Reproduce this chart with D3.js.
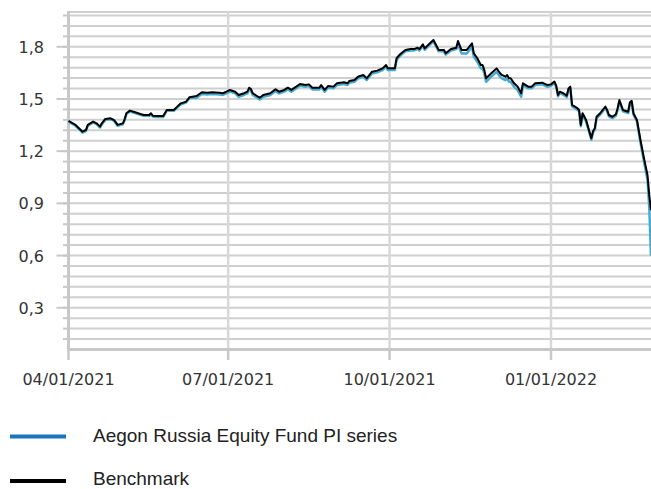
<html>
<head>
<script src="https://d3js.org/d3.v7.min.js"></script>
<style>
    body {
        margin: 0;
        background-color: #ffffff;
    }
    .tick-label {
        font-family: "DejaVu Sans", Verdana, sans-serif;
        font-size: 16px;
        fill: #333333;
    }
    .legend-label {
        font-family: "Liberation Sans", Arial, sans-serif;
        font-size: 19px;
        fill: #222222;
    }
</style>
</head>
<body>
<svg id="chart" width="651" height="489"></svg>

<script>
    // dates of the points (both series share them)
    let dates = [
        "2021-04-01","2021-04-05","2021-04-08","2021-04-09","2021-04-11","2021-04-12","2021-04-15","2021-04-17","2021-04-19","2021-04-20",
        "2021-04-22","2021-04-25","2021-04-27","2021-04-29","2021-05-02","2021-05-03","2021-05-04","2021-05-06","2021-05-09","2021-05-12",
        "2021-05-14","2021-05-17","2021-05-18","2021-05-19","2021-05-21","2021-05-25","2021-05-27","2021-05-31","2021-06-02","2021-06-04",
        "2021-06-07","2021-06-08","2021-06-09","2021-06-13","2021-06-16","2021-06-19","2021-06-22","2021-06-26","2021-06-28","2021-06-30",
        "2021-07-02","2021-07-05","2021-07-07","2021-07-10","2021-07-12","2021-07-13","2021-07-14","2021-07-15","2021-07-19","2021-07-21",
        "2021-07-25","2021-07-28","2021-07-30","2021-08-02","2021-08-04","2021-08-06","2021-08-11","2021-08-14","2021-08-16","2021-08-18",
        "2021-08-22","2021-08-23","2021-08-25","2021-08-27","2021-08-30","2021-09-01","2021-09-05","2021-09-07","2021-09-08","2021-09-11",
        "2021-09-13","2021-09-16","2021-09-18","2021-09-21","2021-09-24","2021-09-27","2021-09-29","2021-09-30","2021-10-04","2021-10-05",
        "2021-10-07","2021-10-10","2021-10-13","2021-10-15","2021-10-17","2021-10-18","2021-10-20","2021-10-21","2021-10-24","2021-10-26",
        "2021-10-29","2021-11-01","2021-11-02","2021-11-05","2021-11-08","2021-11-09","2021-11-11","2021-11-14","2021-11-17","2021-11-18",
        "2021-11-20","2021-11-22","2021-11-23","2021-11-24","2021-11-25","2021-11-28","2021-12-01","2021-12-03","2021-12-04","2021-12-06",
        "2021-12-07","2021-12-08","2021-12-09","2021-12-11","2021-12-13","2021-12-15","2021-12-16","2021-12-19","2021-12-21","2021-12-23",
        "2021-12-27","2021-12-30","2022-01-01","2022-01-03","2022-01-04","2022-01-05","2022-01-06","2022-01-08","2022-01-10","2022-01-11",
        "2022-01-12","2022-01-13","2022-01-16","2022-01-17","2022-01-18","2022-01-19","2022-01-21","2022-01-24","2022-01-25","2022-01-26",
        "2022-01-27","2022-01-29","2022-02-01","2022-02-02","2022-02-03","2022-02-05","2022-02-07","2022-02-08","2022-02-09","2022-02-11",
        "2022-02-14","2022-02-15","2022-02-16","2022-02-17","2022-02-19","2022-02-21","2022-02-23","2022-02-25","2022-02-26","2022-02-27"
    ]

    let fundValues = [
        1.369,1.346,1.317,1.307,1.317,1.346,1.365,1.355,1.336,1.355,
        1.380,1.384,1.374,1.346,1.355,1.378,1.413,1.428,1.419,1.409,
        1.403,1.403,1.413,1.399,1.397,1.397,1.432,1.432,1.451,1.470,
        1.479,1.493,1.505,1.507,1.529,1.526,1.529,1.526,1.523,1.532,
        1.542,1.532,1.513,1.523,1.532,1.555,1.547,1.523,1.497,1.513,
        1.523,1.546,1.532,1.542,1.555,1.542,1.576,1.570,1.574,1.555,
        1.555,1.570,1.542,1.565,1.561,1.580,1.586,1.580,1.593,1.599,
        1.618,1.628,1.609,1.647,1.653,1.666,1.685,1.666,1.666,1.724,
        1.749,1.774,1.779,1.779,1.787,1.779,1.806,1.783,1.812,1.831,
        1.774,1.774,1.755,1.779,1.787,1.813,1.762,1.762,1.800,1.743,
        1.714,1.675,1.675,1.647,1.599,1.628,1.656,1.628,1.618,1.608,
        1.618,1.599,1.599,1.570,1.551,1.513,1.580,1.561,1.561,1.580,
        1.584,1.570,1.576,1.592,1.567,1.515,1.534,1.525,1.511,1.553,
        1.563,1.458,1.439,1.429,1.343,1.410,1.371,1.266,1.308,1.324,
        1.390,1.410,1.448,1.429,1.400,1.390,1.404,1.439,1.486,1.429,
        1.419,1.473,1.481,1.410,1.371,1.250,1.140,1.035,0.880,0.600
    ]

    let benchmarkValues = [
        1.374,1.351,1.322,1.312,1.322,1.351,1.370,1.360,1.341,1.360,
        1.385,1.389,1.379,1.351,1.360,1.383,1.418,1.433,1.424,1.414,
        1.408,1.408,1.418,1.404,1.402,1.402,1.437,1.437,1.456,1.475,
        1.484,1.498,1.510,1.517,1.539,1.536,1.539,1.536,1.533,1.542,
        1.552,1.542,1.523,1.533,1.542,1.565,1.557,1.533,1.507,1.523,
        1.533,1.556,1.542,1.552,1.565,1.552,1.586,1.580,1.584,1.565,
        1.565,1.580,1.552,1.575,1.571,1.590,1.596,1.590,1.603,1.609,
        1.628,1.638,1.619,1.657,1.663,1.676,1.695,1.676,1.676,1.734,
        1.757,1.782,1.787,1.787,1.795,1.787,1.814,1.791,1.820,1.839,
        1.782,1.782,1.763,1.787,1.795,1.833,1.782,1.782,1.820,1.763,
        1.734,1.695,1.695,1.667,1.619,1.648,1.676,1.648,1.638,1.628,
        1.638,1.619,1.619,1.590,1.571,1.533,1.590,1.571,1.571,1.590,
        1.594,1.580,1.584,1.600,1.575,1.523,1.542,1.533,1.519,1.561,
        1.571,1.466,1.447,1.437,1.351,1.418,1.379,1.274,1.316,1.332,
        1.398,1.418,1.456,1.437,1.408,1.398,1.412,1.447,1.494,1.437,
        1.427,1.481,1.489,1.418,1.379,1.264,1.159,1.063,0.948,0.860
    ]

    let xTicks = ["2021-04-01", "2021-07-01", "2021-10-01", "2022-01-01"]
    let yTicks = [0.3, 0.6, 0.9, 1.2, 1.5, 1.8]
    let seriesNames = ["Aegon Russia Equity Fund PI series", "Benchmark"]

    let svg = d3.select("#chart")
    let margin = {left: 68.5, right: 654.5, top: 12, bottom: 349.5}

    let parse = d3.timeParse("%Y-%m-%d")
    let fmt = d3.timeFormat("%m/%d/%Y")

    let xScale = d3.scaleTime()
        .domain([parse("2021-04-01"), parse("2022-03-01")])
        .range([margin.left, margin.right])

    let yScale = d3.scaleLinear()
        .domain([0.06, 2.0])
        .range([margin.bottom, margin.top])

    // minor grid every 0.06
    let minor = d3.range(0.12, 2.0, 0.06)
    let grid = svg.append("g")
    grid.selectAll("line.h")
        .data(minor.concat([2.0]))
        .enter().append("line")
        .attr("x1", margin.left).attr("x2", 651)
        .attr("y1", d => yScale(d)).attr("y2", d => yScale(d))
        .attr("stroke", "#cfcfcf")
        .attr("stroke-width", 2)

    grid.selectAll("line.v")
        .data(xTicks)
        .enter().append("line")
        .attr("x1", d => xScale(parse(d))).attr("x2", d => xScale(parse(d)))
        .attr("y1", margin.top).attr("y2", margin.bottom)
        .attr("stroke", "#d8d8d8")
        .attr("stroke-width", 2.5)

    // y axis
    let yAxis = svg.append("g")
    yAxis.append("line")
        .attr("x1", margin.left).attr("x2", margin.left)
        .attr("y1", margin.top - 1).attr("y2", margin.bottom + 1)
        .attr("stroke", "#c8c8c8").attr("stroke-width", 3)
    yAxis.selectAll("line.minor")
        .data(minor)
        .enter().append("line")
        .attr("x1", 63).attr("x2", margin.left)
        .attr("y1", d => yScale(d)).attr("y2", d => yScale(d))
        .attr("stroke", "#c8c8c8").attr("stroke-width", 2)
    yAxis.selectAll("line.major")
        .data(yTicks)
        .enter().append("line")
        .attr("x1", 56.5).attr("x2", margin.left)
        .attr("y1", d => yScale(d)).attr("y2", d => yScale(d))
        .attr("stroke", "#c8c8c8").attr("stroke-width", 2)
    yAxis.selectAll("text")
        .data(yTicks)
        .enter().append("text")
        .attr("class", "tick-label")
        .attr("x", 44)
        .attr("y", d => yScale(d) + 6)
        .attr("text-anchor", "end")
        .text(d => d3.format(".1f")(d).replace(".", ","))

    // x axis
    let xAxis = svg.append("g")
    xAxis.append("line")
        .attr("x1", margin.left - 1.5).attr("x2", 651)
        .attr("y1", margin.bottom).attr("y2", margin.bottom)
        .attr("stroke", "#c8c8c8").attr("stroke-width", 3)
    xAxis.selectAll("line.tick")
        .data(xTicks)
        .enter().append("line")
        .attr("x1", d => xScale(parse(d))).attr("x2", d => xScale(parse(d)))
        .attr("y1", margin.bottom).attr("y2", 360)
        .attr("stroke", "#c8c8c8").attr("stroke-width", 2.5)
    xAxis.selectAll("text")
        .data(xTicks)
        .enter().append("text")
        .attr("class", "tick-label")
        .attr("x", d => xScale(parse(d)))
        .attr("y", 385)
        .attr("text-anchor", "middle")
        .text(d => fmt(parse(d)))

    // lines
    let line = d3.line()
        .x(d => xScale(d.date))
        .y(d => yScale(d.value))

    let fund = dates.map((d, i) => ({date: parse(d), value: fundValues[i]}))
    let bench = dates.map((d, i) => ({date: parse(d), value: benchmarkValues[i]}))

    svg.append("path")
        .datum(fund)
        .attr("d", line)
        .attr("fill", "none")
        .attr("stroke", "#45abd0")
        .attr("stroke-width", 2.5)
        .attr("stroke-linejoin", "round")

    svg.append("path")
        .datum(bench)
        .attr("d", line)
        .attr("fill", "none")
        .attr("stroke", "#000000")
        .attr("stroke-width", 2)
        .attr("stroke-linejoin", "round")

    //legend
    let legendColors = ["#1a75bc", "#000000"]
    let legendY = [436.5, 481]
    let legend = svg.selectAll("g.legend")
        .data(seriesNames)
        .enter().append("g")
        .attr("transform", (d, i) => `translate(0,${legendY[i]})`)
    legend.append("line")
        .attr("x1", 10).attr("x2", 66)
        .attr("stroke", (d, i) => legendColors[i])
        .attr("stroke-width", 4)
    legend.append("text")
        .attr("class", "legend-label")
        .attr("x", 93)
        .attr("y", (d, i) => i === 0 ? 5.5 : 4)
        .text(d => d)
</script>
</body>
</html>
